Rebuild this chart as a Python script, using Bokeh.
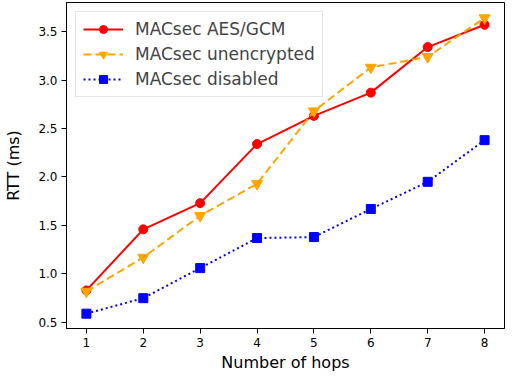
from bokeh.plotting import figure
from bokeh.models import FixedTicker, NumeralTickFormatter, Range1d, Legend, LegendItem
from bokeh.embed import file_html
from bokeh.resources import INLINE

hops = [1, 2, 3, 4, 5, 6, 7, 8]
aes_gcm = [0.83, 1.46, 1.73, 2.34, 2.63, 2.87, 3.34, 3.57]
unencrypted = [0.82, 1.17, 1.60, 1.93, 2.68, 3.13, 3.24, 3.64]
disabled = [0.59, 0.75, 1.06, 1.37, 1.38, 1.67, 1.95, 2.38]
x_ticks = [1, 2, 3, 4, 5, 6, 7, 8]
y_ticks = [0.5, 1.0, 1.5, 2.0, 2.5, 3.0, 3.5]

FONT = "DejaVu Sans"

p = figure(width=505, height=374, output_backend="svg", toolbar_location=None,
           x_range=Range1d(0.65, 8.35), y_range=Range1d(0.437, 3.80),
           min_border_left=66, min_border_right=1, min_border_top=2, min_border_bottom=43)

r1 = p.line(hops, aes_gcm, line_color="red", line_width=2)
s1 = p.scatter(hops, aes_gcm, marker="circle", size=9, fill_color="red", line_color="red")
r2 = p.line(hops, unencrypted, line_color="orange", line_width=2, line_dash="8 4")
s2 = p.scatter(hops, unencrypted, marker="inverted_triangle", size=11, fill_color="orange", line_color="orange")
r3 = p.line(hops, disabled, line_color="blue", line_width=2, line_dash="2 3")
s3 = p.scatter(hops, disabled, marker="square", size=9, fill_color="blue", line_color="blue")

legend = Legend(items=[
    LegendItem(label="MACsec AES/GCM", renderers=[r1, s1]),
    LegendItem(label="MACsec unencrypted", renderers=[r2, s2]),
    LegendItem(label="MACsec disabled", renderers=[r3, s3]),
], location="top_left")
legend.label_text_font = FONT
legend.label_text_font_size = "17px"
legend.glyph_width = 40
legend.glyph_height = 20
legend.label_height = 20
legend.spacing = 5
legend.padding = 7
legend.margin = 9
legend.border_line_color = "#cccccc"
legend.background_fill_alpha = 0.8
legend.label_standoff = 12
p.add_layout(legend)

p.grid.visible = False
p.outline_line_color = "black"
p.outline_line_width = 1

for ax in (p.xaxis[0], p.yaxis[0]):
    ax.major_label_text_font = FONT
    ax.major_label_text_font_size = "12px"
    ax.axis_label_text_font = FONT
    ax.axis_label_text_font_size = "16px"
    ax.axis_label_text_font_style = "normal"
    ax.minor_tick_line_color = None
    ax.major_tick_out = 5
    ax.major_tick_in = 0
    ax.axis_line_color = "black"
    ax.major_tick_line_color = "black"
    ax.major_label_text_color = "black"
    ax.axis_label_text_color = "black"

p.xaxis.ticker = FixedTicker(ticks=x_ticks)
p.yaxis.ticker = FixedTicker(ticks=y_ticks)
p.yaxis.formatter = NumeralTickFormatter(format="0.0")
p.xaxis.axis_label = "Number of hops"
p.yaxis.axis_label = "RTT (ms)"
p.xaxis.axis_label_standoff = 3
p.yaxis.axis_label_standoff = 12
p.xaxis.major_label_standoff = 4
p.yaxis.major_label_standoff = 4

open("out.html", "w").write(file_html(p, INLINE))
